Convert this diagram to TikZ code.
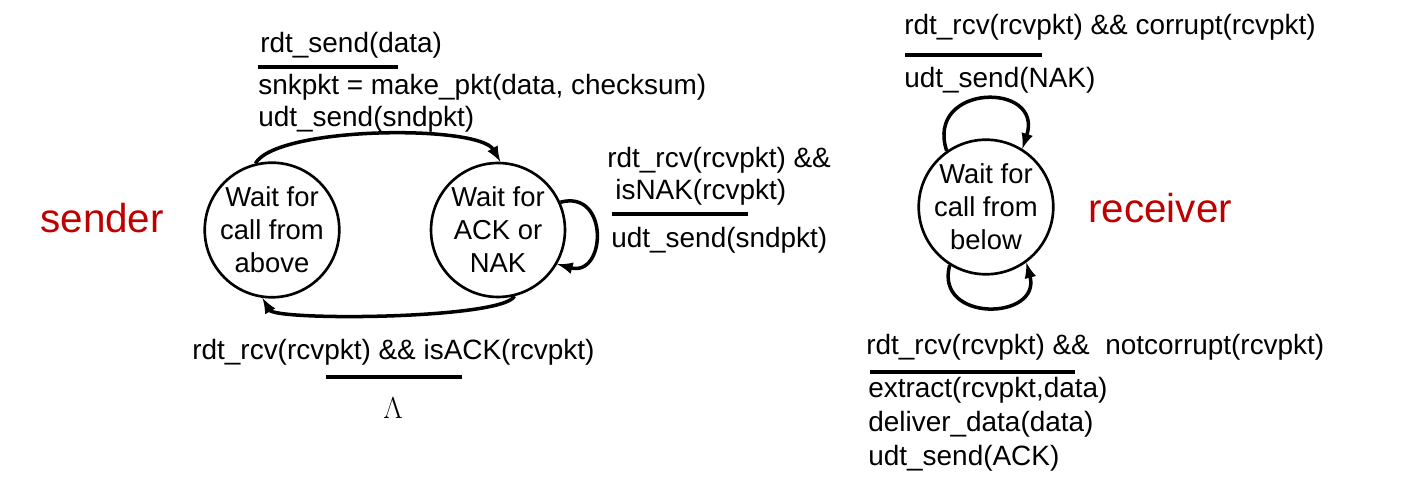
\documentclass[tikz,border=0pt]{standalone}
\usepackage{fontspec}
\setmainfont{Liberation Sans}
\usepackage{tikz}
\definecolor{darkred}{rgb}{0.75,0,0}

\begin{document}
\begin{tikzpicture}[x=0.02cm, y=-0.02cm, >=latex, state/.style = {shape=circle, draw, line width=1.5pt, align=center, inner sep=0pt, minimum size=2.68cm, font=\fontsize{15.6}{18.8}\selectfont}, action/.style = {anchor=west, inner sep=0pt, font=\fontsize{15.9}{19}\selectfont}, side/.style = {anchor=west, inner sep=0pt, text=darkred, font=\fontsize{23}{27}\selectfont}, divider/.style = {line width=2.3pt}, move/.style = {->, line width=2pt}]
	\useasboundingbox (0,0) rectangle (1423,489);
	% sender
	\node[side] (sender) at (40,218) {sender};
	\node[state] (above) at (272,230) {Wait for\\call from\\above};
	\node[state] (acknak) at (498,230) {Wait for\\ACK or\\NAK};
	\node[action] (sendevt) at (260,45) {rdt\_send(data)};
	\draw[divider] (258,67) -- (398,67);
	\node[action] (makepkt) at (258,87) {snkpkt = make\_pkt(data, checksum)};
	\node[action] (sendpkt) at (258,119) {udt\_send(sndpkt)};
	\node[action] (naktrig) at (607,160) {rdt\_rcv(rcvpkt) \&\&};
	\node[action] (isnak) at (615,192) {isNAK(rcvpkt)};
	\draw[divider] (612,214) -- (748,214);
	\node[action] (resend) at (611,240) {udt\_send(sndpkt)};
	\node[action] (acktrig) at (192,352) {rdt\_rcv(rcvpkt) \&\& isACK(rcvpkt)};
	\draw[divider] (326,377) -- (462,377);
	\node[inner sep=0pt, font=\fontsize{15.9}{19}\selectfont] (noop) at (393,408) {$\Lambda$};
	\draw[move] (above.104) to[out=60, in=120, looseness=0.45] (acknak.88);
	\draw[move] (acknak.-76) to[out=-120, in=-60, looseness=0.27] (above.-98);
	\draw[move] (acknak.24) to[out=15, in=-15, looseness=2.1] (acknak.-30);
	% receiver
	\node[side] (receiver) at (1088,208) {receiver};
	\node[state] (below) at (986,207) {Wait for\\call from\\below};
	\node[action] (corrtrig) at (904,27) {rdt\_rcv(rcvpkt) \&\& corrupt(rcvpkt)};
	\draw[divider] (905,55) -- (1042,55);
	\node[action] (nakact) at (904,80) {udt\_send(NAK)};
	\node[action] (oktrig) at (866,347) {rdt\_rcv(rcvpkt) \&\&\ \ notcorrupt(rcvpkt)};
	\draw[divider] (870,372) -- (1075,372);
	\node[action] (extract) at (868,390) {extract(rcvpkt,data)};
	\node[action] (deliver) at (868,424) {deliver\_data(data)};
	\node[action] (ackact) at (868,458) {udt\_send(ACK)};
	\draw[move] (below.125) to[out=108, in=72, looseness=2.4] (below.58);
	\draw[move] (below.-122) to[out=-105, in=-75, looseness=2] (below.-54);
\end{tikzpicture}
\end{document}
